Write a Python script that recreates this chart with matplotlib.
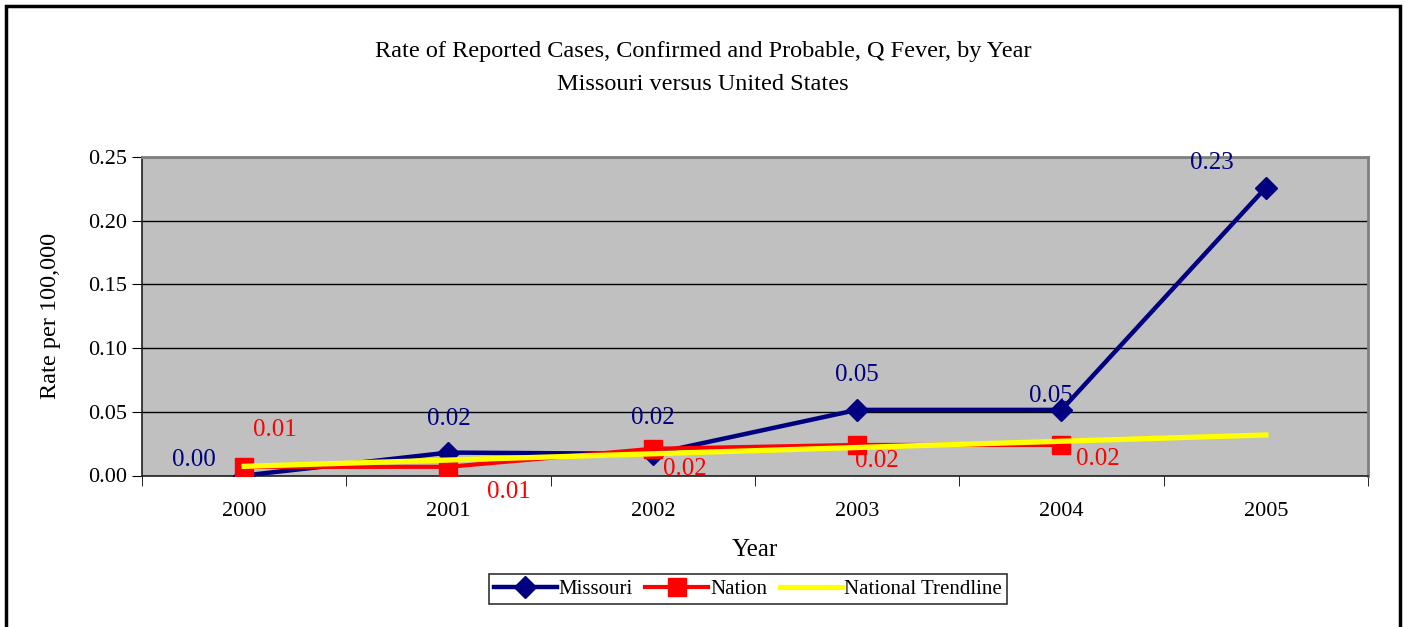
import matplotlib
matplotlib.use("Agg")
import matplotlib.pyplot as plt
from matplotlib.patches import Rectangle

plt.rcParams['font.family'] = ['Liberation Serif', 'DejaVu Serif']

years = [2000, 2001, 2002, 2003, 2004, 2005]
year_labels = ['2000', '2001', '2002', '2003', '2004', '2005']
missouri = [0.000, 0.018, 0.017, 0.0515, 0.0515, 0.226]
missouri_labels = ['0.00', '0.02', '0.02', '0.05', '0.05', '0.23']
nation = [0.0068, 0.0068, 0.021, 0.024, 0.024]
nation_labels = ['0.01', '0.01', '0.02', '0.02', '0.02']
trend_years = [2000, 2005]
trend_values = [0.0072, 0.0318]

# label offsets in pixels (hand placed in the original)
mo_off = [(-50, 15), (0, 34), (0, 36), (0, 35), (-11, 14), (-54, 25)]
na_off = [(31, 37), (60, -25), (32, -20), (20, -16), (36, -14)]

navy = '#000080'
red = '#FF0000'
yellow = '#FFFF00'

fig = plt.figure(figsize=(14.06, 6.27), dpi=100)
ax = fig.add_axes([142 / 1406, 1 - 475.5 / 627, (1368 - 142) / 1406, (475.5 - 157) / 627])
ax.set_facecolor('#C0C0C0')

ax.plot(years, missouri, color=navy, lw=3.2, marker='D', ms=11, label='Missouri', zorder=3)
ax.plot(years[:5], nation, color=red, lw=3, marker='s', ms=13, label='Nation', zorder=4)
ax.plot(trend_years, trend_values, color=yellow, lw=3.8, label='National Trendline', zorder=5)

for x, y, t, o in zip(years, missouri, missouri_labels, mo_off):
    ax.annotate(t, (x, y), xytext=o, textcoords='offset pixels', ha='center', va='center',
                color=navy, fontsize=18, zorder=6, annotation_clip=False)
for x, y, t, o in zip(years, nation, nation_labels, na_off):
    ax.annotate(t, (x, y), xytext=o, textcoords='offset pixels', ha='center', va='center',
                color=red, fontsize=18, zorder=6, annotation_clip=False)

ax.set_xlim(1999.5, 2005.5)
ax.set_ylim(0, 0.25)
ax.set_yticks([0, 0.05, 0.10, 0.15, 0.20, 0.25])
ax.set_yticklabels(['0.00', '0.05', '0.10', '0.15', '0.20', '0.25'], fontsize=16)
ax.set_xticks(years)
ax.set_xticklabels(year_labels, fontsize=16)
ax.set_xticks([y + 0.5 for y in years[:-1]] + [1999.5, 2005.5], minor=True)
ax.tick_params(axis='x', which='major', length=0, pad=19)
ax.tick_params(axis='x', which='minor', length=7, direction='out', color='black')
ax.tick_params(axis='y', length=7, direction='out', color='black', pad=4)
ax.yaxis.grid(True, color='black', lw=1)
ax.set_axisbelow(True)

for s in ['top', 'right']:
    ax.spines[s].set_color('#808080')
    ax.spines[s].set_linewidth(2)
for s in ['left', 'bottom']:
    ax.spines[s].set_color('#202020')
    ax.spines[s].set_linewidth(1.2)

ax.set_xlabel('Year', fontsize=18, labelpad=13)
ax.set_ylabel('Rate per 100,000', fontsize=17.5, labelpad=19)

fig.text(0.5, 1 - 51 / 627, 'Rate of Reported Cases, Confirmed and Probable, Q Fever, by Year',
         ha='center', va='center', fontsize=17.5)
fig.text(0.5, 1 - 84 / 627, 'Missouri versus United States', ha='center', va='center', fontsize=17.5)

leg = fig.legend(loc='center', bbox_to_anchor=(748 / 1406, 1 - 589 / 627), ncol=3,
                 fontsize=15, frameon=True, fancybox=False, handlelength=3.0,
                 handletextpad=0.1, columnspacing=0.6, borderpad=0.25, borderaxespad=0)
leg.get_frame().set_edgecolor('black')
leg.get_frame().set_linewidth(1.2)

fig.patches.append(Rectangle((6 / 1406, -0.1), (1400 - 6) / 1406, 1.1 - 6 / 627,
                             transform=fig.transFigure, fill=False, edgecolor='black',
                             lw=2.5, clip_on=False))

fig.savefig('out.png', dpi=100)
